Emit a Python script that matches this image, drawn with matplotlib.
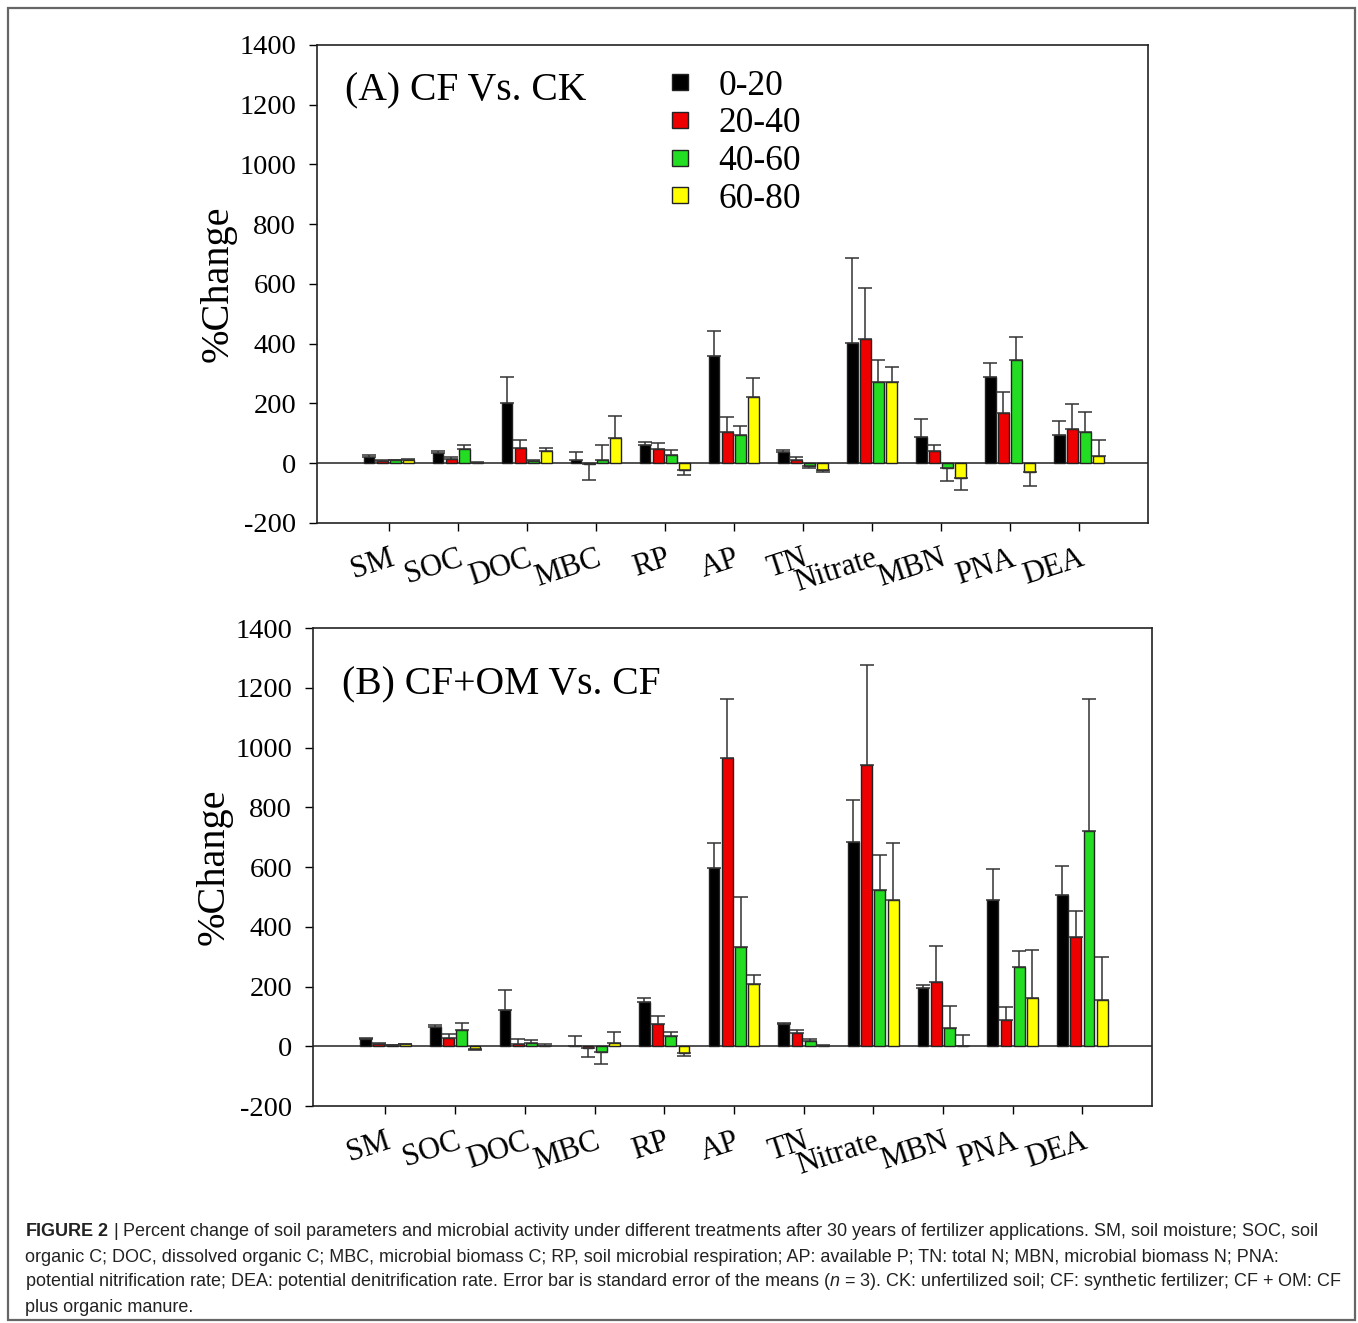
import numpy as np
import matplotlib
matplotlib.use('Agg')
import matplotlib.pyplot as plt
from matplotlib.lines import Line2D
from matplotlib.patches import Rectangle

# du lieu doc tu hinh
categories = ['SM', 'SOC', 'DOC', 'MBC', 'RP', 'AP', 'TN', 'Nitrate', 'MBN', 'PNA', 'DEA']
depths = ['0-20', '20-40', '40-60', '60-80']
colors = ['#000000', '#ee0000', '#22dd22', '#ffff00']

# (A) CF Vs. CK : mean % change, moi hang = 1 do sau
a_mean_0_20 = [20, 33, 200, 12, 61, 358, 36, 402, 89, 289, 94]
a_mean_20_40 = [8, 13, 51, -3, 49, 103, 10, 415, 42, 167, 115]
a_mean_40_60 = [10, 47, 7, 10, 26, 94, -9, 272, -16, 344, 104]
a_mean_60_80 = [12, 2, 41, 86, -21, 222, -23, 272, -51, -31, 25]
a_se_0_20 = [8, 9, 88, 24, 10, 84, 9, 286, 58, 48, 47]
a_se_20_40 = [2, 9, 26, 54, 19, 51, 11, 170, 18, 70, 82]
a_se_40_60 = [1, 14, 3, 51, 19, 31, 7, 75, 42, 77, 66]
a_se_60_80 = [3, 1, 9, 71, 18, 62, 8, 50, 38, 46, 54]

# (B) CF+OM Vs. CF
b_mean_0_20 = [25, 65, 123, 2, 148, 598, 74, 683, 196, 489, 505]
b_mean_20_40 = [6, 28, 6, -5, 75, 965, 45, 940, 215, 87, 366]
b_mean_40_60 = [4, 55, 12, -20, 35, 331, 19, 524, 60, 266, 720]
b_mean_60_80 = [6, -10, 1, 10, -22, 209, 2, 489, 1, 160, 154]
b_se_0_20 = [2, 7, 64, 34, 12, 82, 5, 141, 8, 105, 99]
b_se_20_40 = [6, 13, 18, 31, 25, 199, 8, 337, 122, 45, 86]
b_se_40_60 = [1, 23, 9, 38, 14, 168, 6, 117, 75, 53, 444]
b_se_60_80 = [3, 1, 8, 39, 10, 28, 1, 191, 36, 162, 146]

a_means = [a_mean_0_20, a_mean_20_40, a_mean_40_60, a_mean_60_80]
a_ses = [a_se_0_20, a_se_20_40, a_se_40_60, a_se_60_80]
b_means = [b_mean_0_20, b_mean_20_40, b_mean_40_60, b_mean_60_80]
b_ses = [b_se_0_20, b_se_20_40, b_se_40_60, b_se_60_80]

plt.rcParams['font.family'] = ['Liberation Serif', 'DejaVu Serif']
plt.rcParams['axes.unicode_minus'] = False
plt.rcParams['mathtext.fontset'] = 'custom'
plt.rcParams['mathtext.rm'] = 'Liberation Sans'
plt.rcParams['mathtext.it'] = 'Liberation Sans:italic'
plt.rcParams['mathtext.bf'] = 'Liberation Sans:bold'

fig = plt.figure(figsize=(13.58, 13.23), dpi=100)


def ve_panel(ax, means, ses, title, title_y):
    x = np.arange(len(categories))
    pitch = 0.19
    width = 0.155
    for i, (m, s) in enumerate(zip(means, ses)):
        m = np.array(m, dtype=float)
        s = np.array(s, dtype=float)
        pos = x + (i - 1.5) * pitch
        ax.bar(pos, m, width=width, color=colors[i], edgecolor='#222222',
               linewidth=1.0, zorder=2)
        # error bar mot phia, theo dau cua cot
        lower = np.where(m < 0, s, 0)
        upper = np.where(m >= 0, s, 0)
        ax.errorbar(pos, m, yerr=[lower, upper], fmt='none', ecolor='#333333',
                    elinewidth=1.1, capsize=4.8, capthick=1.1, zorder=3)
    ax.axhline(0, color='#222222', lw=1.1, zorder=1)
    ax.set_xlim(-1.04, 11.0)
    ax.set_ylim(-200, 1400)
    ax.set_yticks(np.arange(-200, 1401, 200))
    ax.set_xticks(x)
    ax.set_xticklabels(categories, rotation=18, ha='right', va='top',
                       rotation_mode='anchor', fontsize=22)
    ax.tick_params(axis='y', labelsize=20.5, length=6, width=1, pad=9, direction='out')
    ax.tick_params(axis='x', length=6, width=1, pad=9, direction='out')
    for sp in ax.spines.values():
        sp.set_linewidth(1.2)
        sp.set_color('#222222')
    ax.set_ylabel('%Change', fontsize=29, labelpad=2)
    ax.text(0.034, title_y, title, transform=ax.transAxes, fontsize=28.5,
            va='center', ha='left')


ax1 = fig.add_axes([0.2334, 0.6047, 0.6119, 0.3613])
ve_panel(ax1, a_means, a_ses, '(A) CF Vs. CK', 0.904)

handles = [Line2D([], [], marker='s', linestyle='none', markersize=12,
                  markerfacecolor=c, markeredgecolor='#222222', markeredgewidth=1)
           for c in colors]
ax1.legend(handles, depths, loc='upper left', bbox_to_anchor=(0.415, 0.948),
           frameon=False, fontsize=25.5, labelspacing=0.13, handletextpad=0.6,
           handlelength=1.0, borderaxespad=0, borderpad=0)

ax2 = fig.add_axes([0.2305, 0.1640, 0.6178, 0.3613])
ve_panel(ax2, b_means, b_ses, '(B) CF+OM Vs. CF', 0.882)

# chu thich hinh
caption = [
    r'$\bf{FIGURE\ 2}$ | Percent change of soil parameters and microbial activity under different treatments after 30 years of fertilizer applications. SM, soil moisture; SOC, soil',
    'organic C; DOC, dissolved organic C; MBC, microbial biomass C; RP, soil microbial respiration; AP: available P; TN: total N; MBN, microbial biomass N; PNA:',
    r'potential nitrification rate; DEA: potential denitrification rate. Error bar is standard error of the means ($\it{n}$ = 3). CK: unfertilized soil; CF: synthetic fertilizer; CF + OM: CF',
    'plus organic manure.',
]
for k, line in enumerate(caption):
    fig.text(0.0184, 1 - (1232 + 25 * k) / 1323, line, fontsize=13,
             family='Liberation Sans', color='#222222', va='center', ha='left')

fig.patches.append(Rectangle((8 / 1358, 3 / 1323), 1347 / 1358, 1312 / 1323,
                             transform=fig.transFigure, fill=False,
                             edgecolor='#666666', linewidth=1.6))

fig.savefig('out.png', dpi=100)
